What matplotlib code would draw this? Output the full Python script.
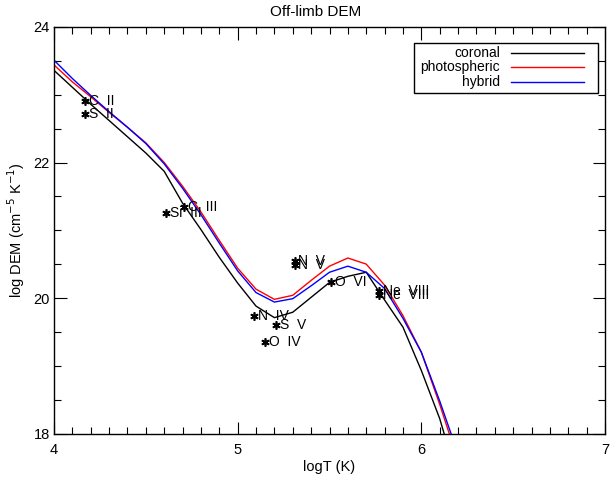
import matplotlib
matplotlib.use("Agg")
import matplotlib.pyplot as plt
from matplotlib.ticker import MultipleLocator
from matplotlib.patches import Rectangle

# ---- data ----
logT = [4.0, 4.1, 4.2, 4.3, 4.4, 4.5, 4.6, 4.7, 4.8, 4.9, 5.0, 5.1, 5.2,
        5.3, 5.4, 5.5, 5.6, 5.7, 5.8, 5.9, 6.0, 6.1, 6.2]
dem_coronal = [23.36, 23.11, 22.86, 22.62, 22.38, 22.14, 21.87, 21.40, 21.01,
               20.60, 20.22, 19.88, 19.71, 19.79, 20.01, 20.23, 20.32, 20.38,
               19.97, 19.57, 18.93, 18.22, 17.30]
dem_photospheric = [23.44, 23.19, 22.97, 22.74, 22.52, 22.29, 22.00, 21.65,
                    21.27, 20.85, 20.44, 20.13, 19.98, 20.04, 20.26, 20.47,
                    20.59, 20.50, 20.19, 19.74, 19.20, 18.43, 17.60]
dem_hybrid = [23.51, 23.24, 22.99, 22.75, 22.52, 22.28, 21.98, 21.62, 21.23,
              20.81, 20.40, 20.08, 19.94, 19.99, 20.18, 20.38, 20.47, 20.38,
              20.14, 19.70, 19.20, 18.48, 17.70]

line_names = ["C  II", "S  II", "Si  III", "C  III", "N  V", "N  V", "N  IV",
              "S  V", "O  IV", "O  VI", "Ne  VIII", "Ne  VIII"]
line_logT = [4.17, 4.17, 4.61, 4.71, 5.31, 5.31, 5.09, 5.21, 5.15, 5.51, 5.77, 5.77]
line_dem = [22.91, 22.71, 21.25, 21.35, 20.54, 20.48, 19.74, 19.60, 19.35,
            20.23, 20.10, 20.05]

series_labels = ["coronal", "photospheric", "hybrid"]
series_colors = ["black", "red", "blue"]

# ---- figure ----
plt.rcParams['font.family'] = ['Liberation Sans', 'DejaVu Sans']
W, H = 613, 478
fig = plt.figure(figsize=(W / 100, H / 100), dpi=100)
ax = fig.add_axes([54 / W, 1 - 433.5 / H, 551 / W, 406.5 / H])

for y, c in zip([dem_coronal, dem_photospheric, dem_hybrid], series_colors):
    ax.plot(logT, y, color=c, lw=1.0)

ax.plot(line_logT, line_dem, linestyle='none', marker=(6, 2, 0), ms=6,
        mew=1.2, color='black')
for name, xv, yv in zip(line_names, line_logT, line_dem):
    ax.text(xv + 0.02, yv, name, fontsize=10, ha='left', va='center')

ax.set_xlim(4, 7)
ax.set_ylim(18, 24)
ax.xaxis.set_major_locator(MultipleLocator(1))
ax.xaxis.set_minor_locator(MultipleLocator(0.1))
ax.yaxis.set_major_locator(MultipleLocator(2))
ax.yaxis.set_minor_locator(MultipleLocator(0.5))
ax.tick_params(which='both', direction='in', top=True, right=True, labelsize=10.5,
               width=0.8)
ax.tick_params(which='major', length=9)
ax.tick_params(which='minor', length=5)
ax.tick_params(axis='x', pad=7)
ax.tick_params(axis='y', pad=3)
for s in ax.spines.values():
    s.set_linewidth(1.0)

ax.set_xlabel("logT (K)", fontsize=10.5, labelpad=2)
ax.set_ylabel(r"log DEM (cm$^{-5}$ K$^{-1}$)", fontsize=10.5, labelpad=5)
ax.text(0.475, 1.02, "Off-limb DEM", transform=ax.transAxes, ha='center',
        va='bottom', fontsize=11)

# legend (manual, IDL style)
ax.add_patch(Rectangle((0.654, 0.837), 0.333, 0.124, transform=ax.transAxes,
                       fill=False, edgecolor='black', lw=1.0, zorder=5))
leg_y = [0.936, 0.901, 0.865]
for lab, c, yy in zip(series_labels, series_colors, leg_y):
    ax.plot([0.829, 0.962], [yy, yy], color=c, lw=1.0, transform=ax.transAxes,
            zorder=5)
    ax.text(0.809, yy, lab, transform=ax.transAxes, ha='right', va='center',
            fontsize=10, zorder=5)

fig.savefig("out.png", dpi=100)
